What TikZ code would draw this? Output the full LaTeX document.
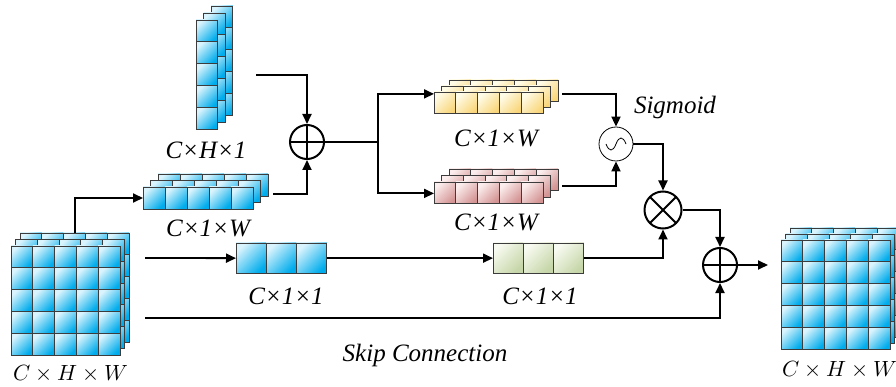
\documentclass[tikz,border=0pt]{standalone}
\usepackage{fontspec}
\usepackage{unicode-math}
\setmainfont{Liberation Serif}
\setmathfont{Latin Modern Math}
\usetikzlibrary{arrows.meta}
\definecolor{cellline}{RGB}{60,60,60}
\definecolor{bluehi}{RGB}{218,244,253}
\definecolor{bluelo}{RGB}{0,172,236}
\definecolor{yelhi}{RGB}{255,252,232}
\definecolor{yello}{RGB}{249,214,122}
\definecolor{pinkhi}{RGB}{252,238,238}
\definecolor{pinklo}{RGB}{212,148,148}
\definecolor{grnhi}{RGB}{247,250,240}
\definecolor{grnlo}{RGB}{198,214,168}
\tikzset{
  cell/.style={draw=cellline, line width=0.9pt},
  bluecell/.style={cell, top color=bluehi, bottom color=bluelo, shading angle=45},
  yelcell/.style={cell, top color=yelhi, bottom color=yello, shading angle=45},
  pinkcell/.style={cell, top color=pinkhi, bottom color=pinklo, shading angle=45},
  grncell/.style={cell, top color=grnhi, bottom color=grnlo, shading angle=45},
  wire/.style={line width=1.8pt},
  conn/.style={wire, -{Triangle[length=10pt,width=9pt]}},
  opnode/.style={circle, draw, line width=2pt, minimum size=34pt, inner sep=0pt},
  plusnode/.style={opnode, path picture={
    \draw[line width=2pt] (path picture bounding box.north) -- (path picture bounding box.south)
      (path picture bounding box.west) -- (path picture bounding box.east);}},
  timesnode/.style={opnode, minimum size=37pt, path picture={
    \draw[line width=2pt] (path picture bounding box.north west) -- (path picture bounding box.south east)
      (path picture bounding box.north east) -- (path picture bounding box.south west);}},
  signode/.style={circle, draw, line width=0.8pt, minimum size=34pt, inner sep=0pt, path picture={
    \draw[line width=0.8pt, shift={(path picture bounding box.center)}]
      (-10,0) .. controls (-7,8) and (-3,8) .. (0,0) .. controls (3,-8) and (7,-8) .. (10,0);}},
  dimlabel/.style={font=\fontsize{25}{28}\selectfont\itshape},
  mathlabel/.style={font=\fontsize{22}{26}\selectfont},
}
\newcommand{\cellstack}[8]{%
  \begin{scope}[local bounding box=#1]
    \foreach \ox/\oy in {#8} {
      \foreach \i in {1,...,#5} {
        \foreach \j in {1,...,#6} {
          \path[#2] ({#3+\ox+(\i-1)*#7},{#4+\oy+(\j-1)*#7}) rectangle ++(#7,#7);
        }
      }
    }
  \end{scope}}
\begin{document}
\begin{tikzpicture}[x=1pt,y=-1pt]
  \cellstack{cubeL}{bluecell}{11}{246}{5}{5}{21.8}{9/-13,4.5/-6.5,0/0}
  \cellstack{vstack}{bluecell}{196}{20}{1}{5}{21.8}{15/-14,7.5/-7,0/0}
  \cellstack{hstack}{bluecell}{143}{187}{5}{1}{22}{15/-13,7.5/-6.5,0/0}
  \cellstack{ystack}{yelcell}{434}{92}{5}{1}{21.8}{15/-12,7.5/-6,0/0}
  \cellstack{pstack}{pinkcell}{434}{182}{5}{1}{21.8}{15/-13,7.5/-6.5,0/0}
  \cellstack{blubox}{bluecell}{236}{243}{3}{1}{30.3}{0/0}
  \cellstack{grnbox}{grncell}{493}{243}{3}{1}{30.3}{0/0}
  \cellstack{cubeR}{bluecell}{781}{240}{5}{5}{21.8}{9/-12,4.5/-6,0/0}

  \node[plusnode] (plusA) at (307,142) {};
  \node[signode] (sig) at (616,144) {};
  \node[timesnode] (times) at (663,210) {};
  \node[plusnode] (plusB) at (720,265) {};

  \coordinate (up) at (75,198);
  \coordinate (vout) at (256,75);
  \coordinate (hout) at (273,194);
  \coordinate (split) at (378,142);
  \coordinate (row) at (145,258);
  \coordinate (skip) at (145,318);
  \coordinate (out) at (768,265);

  \draw[conn] (up |- cubeL.north) |- (hstack.west |- up);
  \draw[conn] (vout) -| (plusA.north);
  \draw[conn] (hout) -| (plusA.south);
  \draw[wire] (plusA.east) -- (split);
  \draw[conn] (split) |- ([yshift=3pt]ystack.west);
  \draw[conn] (split) |- ([yshift=-7pt]pstack.west);
  \draw[conn] ([xshift=4pt,yshift=3pt]ystack.east) -| (sig.north);
  \draw[conn] ([xshift=4pt]pstack.east) -| (sig.south);
  \draw[conn] (sig.east) -| (times.north);
  \draw[conn] (row) -- (blubox.west);
  \draw[conn] (blubox.east) -- (grnbox.west);
  \draw[conn] (grnbox.east) -| (times.south);
  \draw[conn] (times.east) -| (plusB.north);
  \draw[conn] (skip) -| (plusB.south);
  \draw[conn] (plusB.east) -- (out);

  \node[dimlabel] (lv) at (206,150) {C×H×1};
  \node[dimlabel] (lh) at (208,228) {C×1×W};
  \node[dimlabel] (ly) at (496,138) {C×1×W};
  \node[dimlabel] (lp) at (496,222) {C×1×W};
  \node[dimlabel] (lb) at (286,296) {C×1×1};
  \node[dimlabel] (lg) at (540,296) {C×1×1};
  \node[dimlabel] (lsig) at (675,107) {Sigmoid};
  \node[dimlabel] (lskip) at (425,355) {Skip Connection};
  \node[mathlabel] (lL) at (71,373) {$C\times H\times W$};
  \node[mathlabel] (lR) at (840,369) {$C\times H\times W$};
  \pgfresetboundingbox
  \useasboundingbox (0,0) rectangle (896,387);
\end{tikzpicture}
\end{document}
